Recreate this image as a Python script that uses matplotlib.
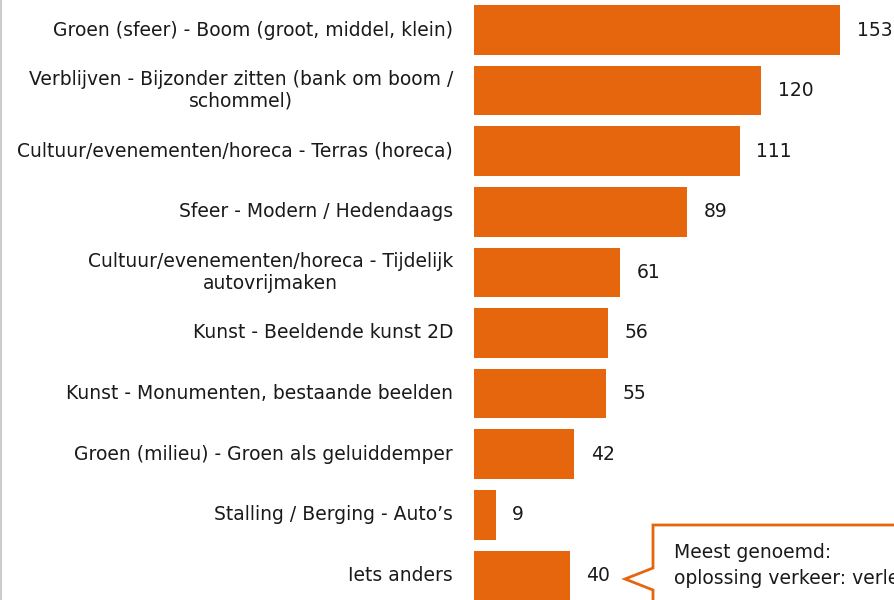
import numpy as np
import matplotlib
matplotlib.use('Agg')
import matplotlib.pyplot as plt
from matplotlib.patches import Polygon

categories = [
    "Groen (sfeer) - Boom (groot, middel, klein)",
    "Verblijven - Bijzonder zitten (bank om boom /\nschommel)",
    "Cultuur/evenementen/horeca - Terras (horeca)",
    "Sfeer - Modern / Hedendaags",
    "Cultuur/evenementen/horeca - Tijdelijk\nautovrijmaken",
    "Kunst - Beeldende kunst 2D",
    "Kunst - Monumenten, bestaande beelden",
    "Groen (milieu) - Groen als geluiddemper",
    "Stalling / Berging - Auto\u2019s",
    "Iets anders",
]
values = [153, 120, 111, 89, 61, 56, 55, 42, 9, 40]
callout_lines = ["Meest genoemd:", "oplossing verkeer: verleggen"]

orange = '#E6660E'
plt.rcParams['font.family'] = ['DejaVu Sans']
fs = 13.5

W, H = 894, 600
fig = plt.figure(figsize=(W / 100, H / 100), dpi=100)
ax = fig.add_axes([474 / W, 0, 420 / W, 1])

ypos = np.arange(len(values))
ax.barh(ypos, values, height=0.82, color=orange)
ax.set_xlim(0, 420 / 2.392)
ax.set_ylim(570 / 60.6, -30 / 60.6)
ax.axis('off')

for y, v, lab in zip(ypos, values, categories):
    ax.text(v + 7, y, str(v), va='center', ha='left', fontsize=fs, color='#1a1a1a')
    ax.annotate(lab, xy=(0, y), xytext=(-15, 0), textcoords='offset points',
                ha='right', va='center', multialignment='center', fontsize=fs,
                color='#1a1a1a', linespacing=1.15)

# left border line
fig.add_artist(plt.Line2D([0.5 / W, 0.5 / W], [0, 1], color='#cccccc', lw=1.5))

# callout box (pixel coords, y measured from top)
pts = [(653, 525), (900, 525), (900, 605), (653, 605), (653, 590), (625, 579), (653, 568)]
poly = Polygon([(x / W, 1 - y / H) for x, y in pts], closed=True, fill=True,
               facecolor='white', edgecolor=orange, lw=2, transform=fig.transFigure)
fig.add_artist(poly)
fig.text(674 / W, 1 - 552 / H, callout_lines[0], fontsize=fs, va='center', ha='left', color='#1a1a1a')
fig.text(674 / W, 1 - 578 / H, callout_lines[1], fontsize=fs, va='center', ha='left', color='#1a1a1a')

fig.savefig('out.png', dpi=100)
